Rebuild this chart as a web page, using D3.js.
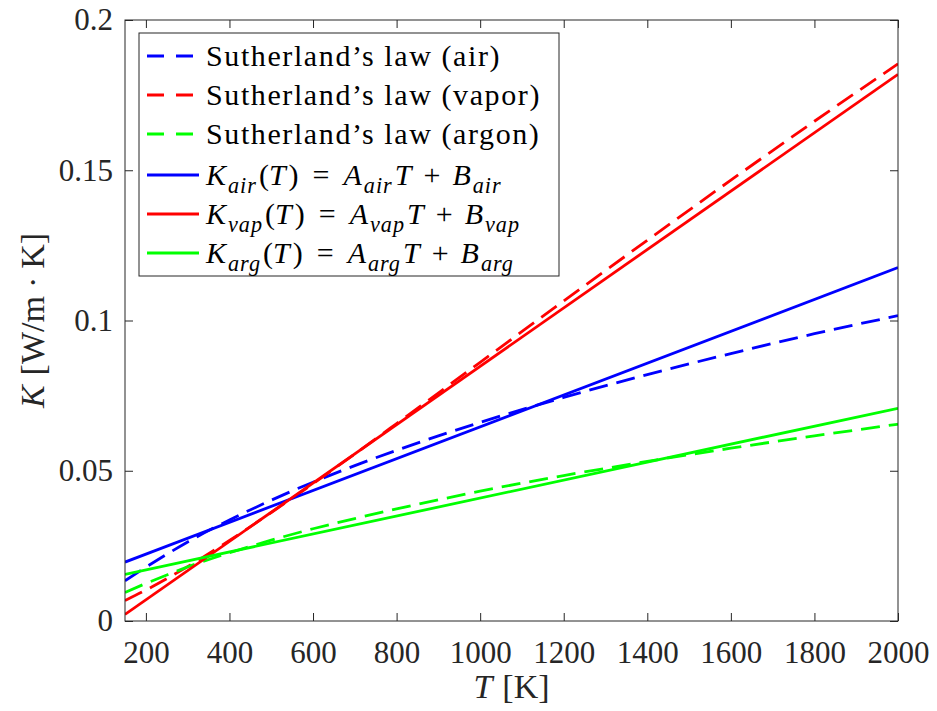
<!DOCTYPE html>
<html>
<head>
<meta charset="utf-8">
<script src="https://cdn.jsdelivr.net/npm/d3@7"></script>
</head>
<body style="margin:0">
<svg id="fig" width="937" height="711" style="display:block;background:#fff"></svg>
<script>
// Temperatures [K] at which the Sutherland curves are sampled
const sutherlandT = [150, 200, 250, 300, 400, 500, 600, 700, 800, 1000, 1200, 1400, 1600, 1800, 2000];
// Thermal conductivity K [W/(m K)] from Sutherland's law
const sutherlandAir   = [0.0134, 0.0179, 0.0222, 0.0263, 0.0336, 0.0402, 0.0462, 0.0517, 0.0568, 0.0661, 0.0744, 0.0820, 0.0890, 0.0956, 0.1016];
const sutherlandVapor = [0.0068, 0.0103, 0.0141, 0.0181, 0.0268, 0.0361, 0.0457, 0.0556, 0.0657, 0.0861, 0.1065, 0.1267, 0.1467, 0.1663, 0.1854];
const sutherlandArgon = [0.0095, 0.0125, 0.0153, 0.0180, 0.0227, 0.0269, 0.0307, 0.0341, 0.0373, 0.0432, 0.0484, 0.0531, 0.0575, 0.0616, 0.0655];

// Linear fits K(T) = A T + B, given by their end points
const fitT     = [150, 2000];
const fitAir   = [0.0196, 0.1176];
const fitVapor = [0.0022, 0.1819];
const fitArgon = [0.0155, 0.0708];

// Axis ticks
const xTicks = [200, 400, 600, 800, 1000, 1200, 1400, 1600, 1800, 2000];
const yTicks = [0, 0.05, 0.1, 0.15, 0.2];
const yTickLabels = ["0", "0.05", "0.1", "0.15", "0.2"];

const BLUE = "#0000ff", RED = "#ff0000", GREEN = "#00ff00";
const AXIS = "#262626";
const FONT = "\"Liberation Serif\", monospace";

const svg = d3.select("#fig");
const plot = { left: 125, right: 898, top: 20, bottom: 621 };

const x = d3.scaleLinear().domain([150, 2000]).range([plot.left, plot.right]);
const y = d3.scaleLinear().domain([0, 0.2]).range([plot.bottom, plot.top]);

// Series definitions (drawn in this order, solid fits on top)
const series = [
  { label: "Sutherland’s law (air)",   T: sutherlandT, K: sutherlandAir,   color: BLUE,  dashed: true },
  { label: "Sutherland’s law (vapor)", T: sutherlandT, K: sutherlandVapor, color: RED,   dashed: true },
  { label: "Sutherland’s law (argon)", T: sutherlandT, K: sutherlandArgon, color: GREEN, dashed: true },
  { math: "air", T: fitT, K: fitAir,   color: BLUE,  dashed: false },
  { math: "vap", T: fitT, K: fitVapor, color: RED,   dashed: false },
  { math: "arg", T: fitT, K: fitArgon, color: GREEN, dashed: false }
];

const DASH = "19,9";
const LW = 2.8;
const TICK = 8;
const FS = 30;
const rowY = [56, 95, 134, 175, 214, 253];

function serif(sel, size) {
  return sel.attr("font-family", "Liberation Serif")
    .style("font-family", FONT).style("font-size", size + "px");
}

function draw() {
  svg.selectAll("*").remove();

  svg.append("defs").append("clipPath").attr("id", "plot-clip")
    .append("rect")
    .attr("x", plot.left).attr("y", plot.top)
    .attr("width", plot.right - plot.left).attr("height", plot.bottom - plot.top);

  const line = d3.line()
    .x(d => x(d[0]))
    .y(d => y(d[1]))
    .curve(d3.curveMonotoneX);

  const linesG = svg.append("g").attr("clip-path", "url(#plot-clip)");
  series.forEach(s => {
    linesG.append("path")
      .datum(s.T.map((t, i) => [t, s.K[i]]))
      .attr("d", line)
      .attr("fill", "none")
      .attr("stroke", s.color)
      .attr("stroke-width", LW)
      .attr("stroke-dasharray", s.dashed ? DASH : null);
  });

  // Axes: ticks point inward and are mirrored on the top and right edges
  function styleAxis(g) {
    g.attr("font-family", "Liberation Serif").attr("font-size", null);
    g.select(".domain").remove();
    g.selectAll(".tick line").attr("stroke", AXIS).attr("stroke-width", 1);
    serif(g.selectAll(".tick text"), 31).attr("fill", AXIS);
  }

  svg.append("g")
    .attr("transform", `translate(0,${plot.bottom})`)
    .call(d3.axisBottom(x).tickValues(xTicks).tickSize(-TICK).tickPadding(20).tickFormat(d3.format("d")))
    .call(styleAxis);
  svg.append("g")
    .attr("transform", `translate(0,${plot.top})`)
    .call(d3.axisTop(x).tickValues(xTicks).tickSize(-TICK).tickFormat(""))
    .call(styleAxis);
  svg.append("g")
    .attr("transform", `translate(${plot.left},0)`)
    .call(d3.axisLeft(y).tickValues(yTicks).tickSize(-TICK).tickPadding(12)
          .tickFormat((d, i) => yTickLabels[i]))
    .call(styleAxis);
  svg.append("g")
    .attr("transform", `translate(${plot.right},0)`)
    .call(d3.axisRight(y).tickValues(yTicks).tickSize(-TICK).tickFormat(""))
    .call(styleAxis);

  svg.append("rect")
    .attr("x", plot.left).attr("y", plot.top)
    .attr("width", plot.right - plot.left).attr("height", plot.bottom - plot.top)
    .attr("fill", "none").attr("stroke", AXIS).attr("stroke-width", 1);

  // Axis labels
  const xLabel = serif(svg.append("text"), 34)
    .attr("x", (plot.left + plot.right) / 2).attr("y", 698)
    .attr("text-anchor", "middle")
    .attr("fill", AXIS);
  xLabel.append("tspan").style("font-style", "italic").text("T");
  xLabel.append("tspan").attr("dx", 10).text("[K]");

  const yLabel = serif(svg.append("text"), 34)
    .attr("transform", `translate(44,${(plot.top + plot.bottom) / 2}) rotate(-90)`)
    .attr("text-anchor", "middle")
    .attr("fill", AXIS);
  yLabel.append("tspan").style("font-style", "italic").text("K");
  yLabel.append("tspan").attr("dx", 10).text("[W/m");
  yLabel.append("tspan").attr("dx", 8).text("·");
  yLabel.append("tspan").attr("dx", 8).text("K]");

  // Legend
  const lg = svg.append("g");
  lg.append("rect")
    .attr("x", 139).attr("y", 33)
    .attr("width", 420).attr("height", 243)
    .attr("fill", "#fff").attr("stroke", AXIS).attr("stroke-width", 1);

  // Write a sequence of text pieces, advancing x by each measured width
  function mathText(g, x0, yBase, pieces) {
    let cx = x0;
    pieces.forEach(p => {
      if (p.gap) { cx += p.gap; return; }
      const t = serif(g.append("text"), p.sub ? FS * 0.74 : FS)
        .attr("x", cx)
        .attr("y", yBase + (p.sub ? 8 : 0))
        .style("font-style", p.it ? "italic" : "normal")
        .style("letter-spacing", p.sub ? "1px" : "0px")
        .attr("fill", "#000")
        .text(p.s);
      cx += t.node().getComputedTextLength() + (p.kern || 0);
    });
  }

  series.forEach((s, i) => {
    const cy = rowY[i];
    lg.append("line")
      .attr("x1", 147).attr("x2", 199)
      .attr("y1", cy).attr("y2", cy)
      .attr("stroke", s.color).attr("stroke-width", LW)
      .attr("stroke-dasharray", s.dashed ? "17,12" : null);
    const base = cy + 10;
    if (s.label) {
      serif(lg.append("text"), FS)
        .attr("x", 206).attr("y", base)
        .style("letter-spacing", "1.6px")
        .attr("fill", "#000")
        .text(s.label);
    } else {
      const sub = s.math;
      mathText(lg, 206, base, [
        { s: "K", it: true, kern: 2 },
        { s: sub, it: true, sub: true, kern: 2 },
        { s: "(" },
        { s: "T", it: true, kern: 3 },
        { s: ")" },
        { gap: 14 },
        { s: "=" },
        { gap: 14 },
        { s: "A", it: true, kern: 2 },
        { s: sub, it: true, sub: true, kern: 2 },
        { s: "T", it: true },
        { gap: 12 },
        { s: "+" },
        { gap: 12 },
        { s: "B", it: true, kern: 2 },
        { s: sub, it: true, sub: true }
      ]);
    }
  });
}

draw();
// Redraw once the serif faces are available so measured widths use them
if (document.fonts && document.fonts.load) {
  Promise.all([
    document.fonts.load('30px "Liberation Serif"'),
    document.fonts.load('italic 30px "Liberation Serif"')
  ]).then(draw).catch(() => {});
}
</script>
</body>
</html>
